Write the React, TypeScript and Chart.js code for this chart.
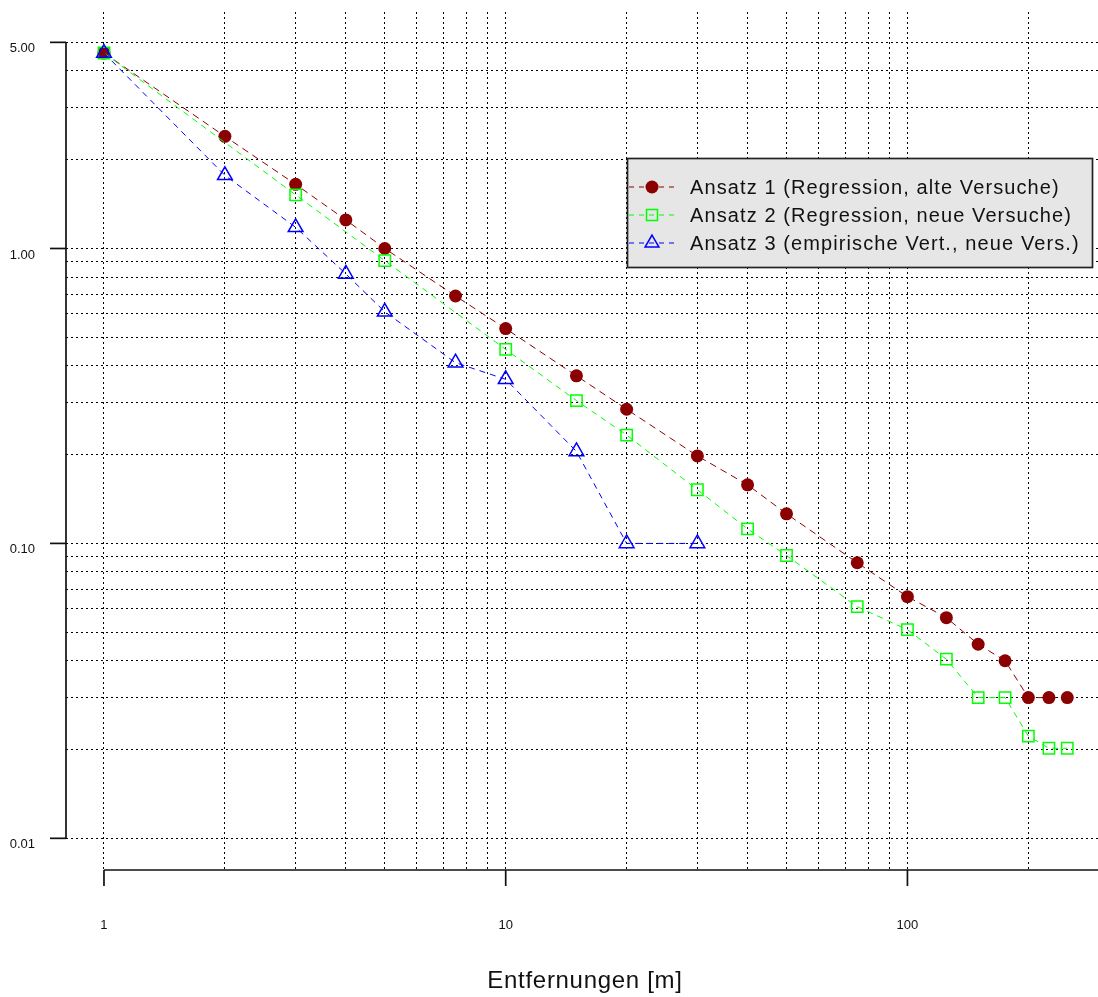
import { useEffect, useRef } from 'react';
import { Chart, registerables } from 'chart.js';

Chart.register(...registerables);

// ---- data ----
const seriesLabels = [
  'Ansatz 1 (Regression, alte Versuche)',
  'Ansatz 2 (Regression, neue Versuche)',
  'Ansatz 3 (empirische Vert., neue Vers.)',
];
const distances1 = [1, 2, 3, 4, 5, 7.5, 10, 15, 20, 30, 40, 50, 75, 100, 125, 150, 175, 200, 225, 250];
const ansatz1 = [4.6, 2.4, 1.65, 1.25, 1.0, 0.69, 0.535, 0.37, 0.285, 0.198, 0.158, 0.126, 0.086, 0.066, 0.056, 0.0455, 0.04, 0.03, 0.03, 0.03];
const distances2 = [1, 3, 5, 10, 15, 20, 30, 40, 50, 75, 100, 125, 150, 175, 200, 225, 250];
const ansatz2 = [4.6, 1.52, 0.91, 0.455, 0.305, 0.233, 0.152, 0.112, 0.091, 0.061, 0.051, 0.0405, 0.03, 0.03, 0.0222, 0.0202, 0.0202];
const distances3 = [1, 2, 3, 4, 5, 7.5, 10, 15, 20, 30];
const ansatz3 = [4.6, 1.77, 1.18, 0.82, 0.61, 0.41, 0.36, 0.205, 0.1, 0.1];

const xGridValues = [1, 2, 3, 4, 5, 6, 7, 8, 9, 10, 20, 30, 40, 50, 60, 70, 80, 90, 100, 200];
const yGridValues = [0.01, 0.02, 0.03, 0.04, 0.05, 0.06, 0.07, 0.08, 0.09, 0.1, 0.2, 0.3, 0.4, 0.5, 0.6, 0.7, 0.8, 0.9, 1, 2, 3, 4, 5];
const xTickLabels = [1, 10, 100];
const yTickLabels = [5, 1, 0.1, 0.01];
const xTitle = 'Entfernungen [m]';

const colors = ['#8B0000', '#00FF00', '#0000FF'];

const FONT = '"Liberation Sans", Arial, Helvetica, sans-serif';

function drawMarker(ctx: CanvasRenderingContext2D, kind: number, x: number, y: number) {
  ctx.save();
  ctx.setLineDash([]);
  ctx.strokeStyle = colors[kind];
  ctx.fillStyle = colors[kind];
  ctx.lineWidth = 1.5;
  if (kind === 0) {
    ctx.beginPath();
    ctx.arc(x, y, 6.5, 0, Math.PI * 2);
    ctx.fill();
  } else if (kind === 1) {
    const s = 5.5;
    ctx.strokeRect(x - s, y - s, 2 * s, 2 * s);
  } else {
    const r = 8;
    ctx.beginPath();
    for (let i = 0; i < 3; i++) {
      const a = -Math.PI / 2 + (i * 2 * Math.PI) / 3;
      const px = x + r * Math.cos(a);
      const py = y + r * Math.sin(a);
      if (i === 0) ctx.moveTo(px, py);
      else ctx.lineTo(px, py);
    }
    ctx.closePath();
    ctx.stroke();
  }
  ctx.restore();
}

const decorPlugin = {
  id: 'decor',
  afterDraw(chart: any) {
    const ctx: CanvasRenderingContext2D = chart.ctx;
    const xs = chart.scales.x;
    const ys = chart.scales.y;
    const area = chart.chartArea;
    ctx.save();
    ctx.setLineDash([]);
    ctx.strokeStyle = '#111';
    ctx.lineWidth = 1.7;

    // y axis
    const axX = area.left;
    const yTop = ys.getPixelForValue(5);
    const yBot = ys.getPixelForValue(0.01);
    ctx.beginPath();
    ctx.moveTo(axX, yTop);
    ctx.lineTo(axX, yBot);
    ctx.stroke();
    ctx.fillStyle = '#111';
    ctx.font = '13px ' + FONT;
    ctx.textAlign = 'right';
    ctx.textBaseline = 'middle';
    for (const v of yTickLabels) {
      const py = ys.getPixelForValue(v);
      ctx.beginPath();
      ctx.moveTo(axX - 16, py);
      ctx.lineTo(axX, py);
      ctx.stroke();
      ctx.fillText(v.toFixed(2), 35, py + 6.5);
    }

    // x axis
    const axY = area.bottom;
    ctx.beginPath();
    ctx.moveTo(xs.getPixelForValue(1), axY);
    ctx.lineTo(area.right, axY);
    ctx.stroke();
    ctx.font = '13px ' + FONT;
    ctx.textAlign = 'center';
    for (const v of xTickLabels) {
      const px = xs.getPixelForValue(v);
      ctx.beginPath();
      ctx.moveTo(px, axY);
      ctx.lineTo(px, axY + 16);
      ctx.stroke();
      ctx.fillText(String(v), px, 925);
    }

    // axis title
    ctx.font = '24px ' + FONT;
    (ctx as any).letterSpacing = '0.7px';
    ctx.textAlign = 'center';
    ctx.textBaseline = 'alphabetic';
    ctx.fillText(xTitle, 585, 988);

    // legend
    (ctx as any).letterSpacing = '0px';
    ctx.fillStyle = '#e6e6e6';
    ctx.fillRect(627.5, 158.5, 465, 109);
    ctx.lineWidth = 1.7;
    ctx.strokeStyle = '#222';
    ctx.strokeRect(627.5, 158.5, 465, 109);
    const rows = [187, 215, 243];
    for (let i = 0; i < 3; i++) {
      const ry = rows[i];
      ctx.save();
      ctx.strokeStyle = colors[i];
      ctx.lineWidth = 1;
      ctx.setLineDash([5, 5]);
      ctx.lineDashOffset = 0;
      ctx.beginPath();
      ctx.moveTo(629, ry);
      ctx.lineTo(674, ry);
      ctx.stroke();
      ctx.restore();
      drawMarker(ctx, i, 652, ry);
      ctx.fillStyle = '#111';
      ctx.font = '20px ' + FONT;
      (ctx as any).letterSpacing = '1.1px';
      ctx.textAlign = 'left';
      ctx.textBaseline = 'middle';
      ctx.fillText(seriesLabels[i], 690, ry + 1.5);
      (ctx as any).letterSpacing = '0px';
    }
    ctx.restore();
  },
};

export default function App() {
  const ref = useRef<HTMLCanvasElement | null>(null);
  useEffect(() => {
    document.body.style.margin = '0';
    const canvas = ref.current;
    if (!canvas) return;
    const mk = (xsArr: number[], ysArr: number[]) => xsArr.map((x, i) => ({ x, y: ysArr[i] }));
    const chart = new Chart(canvas, {
      type: 'line',
      data: {
        datasets: [
          {
            label: seriesLabels[0],
            data: mk(distances1, ansatz1),
            borderColor: colors[0],
            backgroundColor: colors[0],
            borderWidth: 1,
            borderDash: [7, 5],
            pointStyle: 'circle',
            pointRadius: 6.5,
            pointBorderWidth: 0,
            pointBackgroundColor: colors[0],
            pointBorderColor: colors[0],
            fill: false,
            tension: 0,
            order: 3,
          },
          {
            label: seriesLabels[1],
            data: mk(distances2, ansatz2),
            borderColor: colors[1],
            backgroundColor: 'rgba(0,0,0,0)',
            borderWidth: 1,
            borderDash: [6, 5],
            pointStyle: 'rect',
            pointRadius: 8,
            pointBorderWidth: 1.5,
            pointBackgroundColor: 'rgba(0,0,0,0)',
            pointBorderColor: colors[1],
            fill: false,
            tension: 0,
            order: 2,
          },
          {
            label: seriesLabels[2],
            data: mk(distances3, ansatz3),
            borderColor: colors[2],
            backgroundColor: 'rgba(0,0,0,0)',
            borderWidth: 1,
            borderDash: [6, 5],
            pointStyle: 'triangle',
            pointRadius: 8.5,
            pointBorderWidth: 1.5,
            pointBackgroundColor: 'rgba(0,0,0,0)',
            pointBorderColor: colors[2],
            fill: false,
            tension: 0,
            order: 1,
          },
        ],
      },
      options: {
        responsive: false,
        animation: false,
        layout: { autoPadding: false, padding: { top: 12, left: 0, right: 0, bottom: 0 } },
        plugins: { legend: { display: false }, tooltip: { enabled: false } },
        scales: {
          x: {
            type: 'logarithmic',
            min: 0.8044,
            max: 298.1,
            afterBuildTicks: (s: any) => {
              s.ticks = xGridValues.map((v) => ({ value: v }));
            },
            afterFit: (s: any) => {
              s.height = 127;
            },
            ticks: { display: false },
            grid: { color: '#000', lineWidth: 1, drawTicks: false },
            border: { display: false, dash: [2, 3] },
          },
          y: {
            type: 'logarithmic',
            min: 0.007809,
            max: 6.337,
            afterBuildTicks: (s: any) => {
              s.ticks = yGridValues.map((v) => ({ value: v }));
            },
            afterFit: (s: any) => {
              s.width = 66;
            },
            ticks: { display: false },
            grid: { color: '#000', lineWidth: 1, drawTicks: false },
            border: { display: false, dash: [2, 3] },
          },
        },
      } as any,
      plugins: [decorPlugin],
    });
    return () => chart.destroy();
  }, []);
  return <canvas ref={ref} width={1098} height={997} style={{ display: 'block' }} />;
}
